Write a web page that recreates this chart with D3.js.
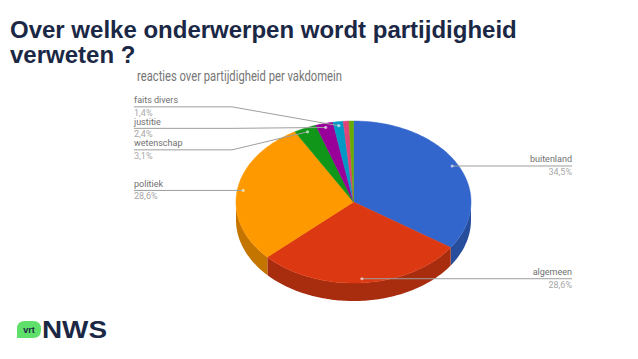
<!DOCTYPE html>
<html>
<head>
<meta charset="utf-8">
<script src="https://cdn.jsdelivr.net/npm/d3@7"></script>
<style>
  body { margin: 0; background: #fff; }
  svg { display: block; }
</style>
</head>
<body>
<script>
// slice data, in drawing order (clockwise from 12 o'clock)
var categories = ["buitenland", "algemeen", "politiek", "wetenschap", "justitie", "faits divers", "overig a", "overig b"];
var values = [34.5, 28.6, 28.6, 3.1, 2.4, 1.4, 0.8, 0.6];
var percentLabels = ["34,5%", "28,6%", "28,6%", "3,1%", "2,4%", "1,4%", "", ""];
var showLabel = [true, true, true, true, true, true, false, false];
var colors = ["#3366cc", "#dc3912", "#ff9900", "#109618", "#990099", "#0099c6", "#dd4477", "#66aa00"];

var W = 638, H = 359;
var cx = 353.5, cy = 202, rx = 117.5, ry = 81, depth = 18;

var svg = d3.select("body").append("svg")
    .attr("width", W)
    .attr("height", H);

// slide title
var title = svg.append("text")
    .style("font-family", "'Liberation Sans', Arial, sans-serif")
    .style("font-weight", "bold")
    .style("font-size", "24px")
    .style("fill", "#1b2845");
title.append("tspan").attr("x", 10).attr("y", 38).text("Over welke onderwerpen wordt partijdigheid");
title.append("tspan").attr("x", 10).attr("y", 63).text("verweten ?");

// chart title (narrow font in the original)
svg.append("text")
    .attr("x", 137)
    .attr("y", 81)
    .attr("textLength", 205)
    .attr("lengthAdjust", "spacingAndGlyphs")
    .style("font-family", "Roboto, sans-serif")
    .style("font-size", "14px")
    .style("fill", "#757575")
    .text("reacties over partijdigheid per vakdomein");

var arcs = d3.pie().sort(null).value(function(d) { return d; })(values);

function pt(a, r, dy) {
  return [cx + rx * r * Math.sin(a), cy + (dy || 0) - ry * r * Math.cos(a)];
}
function arcPoints(a0, a1, dy) {
  var n = Math.max(2, Math.ceil((a1 - a0) / 0.02));
  return d3.range(n + 1).map(function(i) { return pt(a0 + (a1 - a0) * i / n, 1, dy); });
}
var line = d3.line();

var pie = svg.append("g");

// outer walls (front half only)
arcs.forEach(function(d, i) {
  var lo = Math.max(d.startAngle, Math.PI / 2),
      hi = Math.min(d.endAngle, Math.PI * 1.5);
  if (lo >= hi) return;
  var pts = arcPoints(lo, hi, 0).concat(arcPoints(lo, hi, depth).reverse());
  pie.append("path")
      .attr("d", line(pts) + "Z")
      .attr("fill", d3.color(colors[i]).darker(0.75));
});

// top faces
arcs.forEach(function(d, i) {
  var pts = [[cx, cy]].concat(arcPoints(d.startAngle, d.endAngle, 0));
  pie.append("path")
      .attr("d", line(pts) + "Z")
      .attr("fill", colors[i])
      .attr("stroke", colors[i])
      .attr("stroke-width", 0.5);
});

// labels: anchor near the rim, left/right column, overlapping labels centred as a group
var gap = 21.5, leftX = 134, rightX = 572, breakL = 232, breakR = 2 * cx - breakL;
var items = [];
arcs.forEach(function(d, i) {
  if (!showLabel[i]) return;
  var mid = (d.startAngle + d.endAngle) / 2;
  var a = pt(mid, 0.95);
  items.push({ i: i, anchor: a, right: Math.sin(mid) > 0, y: a[1] });
});

function resolve(list) {
  list.sort(function(a, b) { return a.anchor[1] - b.anchor[1]; });
  var groups = list.map(function(it) { return { items: [it] }; });
  function place(g) {
    var m = d3.mean(g.items, function(it) { return it.anchor[1]; });
    var top = m - gap * (g.items.length - 1) / 2;
    g.items.forEach(function(it, k) { it.y = top + k * gap; });
    g.top = top; g.bottom = top + gap * (g.items.length - 1);
  }
  groups.forEach(place);
  var merged = true;
  while (merged) {
    merged = false;
    for (var k = 0; k < groups.length - 1; k++) {
      if (groups[k].bottom + gap > groups[k + 1].top) {
        groups[k].items = groups[k].items.concat(groups[k + 1].items);
        groups.splice(k + 1, 1);
        place(groups[k]);
        merged = true;
        break;
      }
    }
  }
}
resolve(items.filter(function(it) { return !it.right; }));
resolve(items.filter(function(it) { return it.right; }));

var lab = svg.append("g")
    .style("font-family", "Roboto, sans-serif")
    .style("font-size", "9px");

items.forEach(function(it) {
  var x0 = it.right ? rightX : leftX,
      xb = it.right ? breakR : breakL;
  var pts = [[x0, it.y]];
  if (Math.abs(it.y - it.anchor[1]) > 0.5) pts.push([xb, it.y]);
  pts.push(it.anchor);
  lab.append("path")
      .attr("d", line(pts))
      .attr("fill", "none")
      .attr("stroke", "#9e9e9e")
      .attr("stroke-width", 1);
  lab.append("circle")
      .attr("cx", it.anchor[0])
      .attr("cy", it.anchor[1])
      .attr("r", 1.6)
      .attr("fill", "#ffffff")
      .attr("fill-opacity", 0.6);
  lab.append("text")
      .attr("x", x0)
      .attr("y", it.y - 3.5)
      .attr("text-anchor", it.right ? "end" : "start")
      .style("fill", "#6f6f6f")
      .text(categories[it.i]);
  lab.append("text")
      .attr("x", x0)
      .attr("y", it.y + 9)
      .attr("text-anchor", it.right ? "end" : "start")
      .style("fill", "#a8a8a8")
      .text(percentLabels[it.i]);
});

// vrt NWS logo
var logo = svg.append("g").attr("transform", "translate(17,321)");
logo.append("path")
    .attr("d", "M0,17 L0,8 Q0,0 8,0 L16,0 Q24,0 24,8 L24,9 Q24,17 16,17 Z")
    .attr("fill", "#5ee06a");
logo.append("text")
    .attr("x", 12)
    .attr("y", 12)
    .attr("text-anchor", "middle")
    .style("font-family", "'Liberation Sans', Arial, sans-serif")
    .style("font-weight", "bold")
    .style("font-size", "9px")
    .style("fill", "#1b2845")
    .text("vrt");
logo.append("text")
    .attr("x", 25)
    .attr("y", 17)
    .attr("textLength", 65)
    .attr("lengthAdjust", "spacingAndGlyphs")
    .style("font-family", "'Liberation Sans', Arial, sans-serif")
    .style("font-weight", "bold")
    .style("font-size", "24px")
    .style("fill", "#1b2845")
    .text("NWS");
</script>
</body>
</html>
